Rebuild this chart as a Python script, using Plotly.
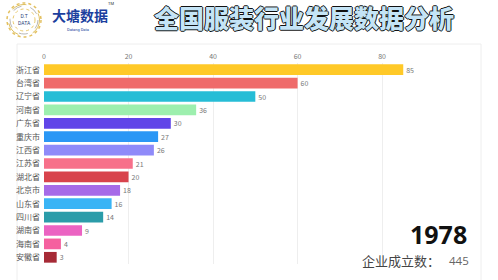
import plotly.graph_objects as go

provinces = ["浙江省", "台湾省", "辽宁省", "河南省", "广东省", "重庆市", "江西省", "江苏省",
             "湖北省", "北京市", "山东省", "四川省", "湖南省", "海南省", "安徽省"]
values = [85, 60, 50, 36, 30, 27, 26, 21, 20, 18, 16, 14, 9, 4, 3]
colors = ["#FFC928", "#EF6B6B", "#26BDD6", "#9DEFAE", "#6045E8", "#2A97F5", "#8F8AF9", "#F7708A",
          "#D8434C", "#A66AE8", "#3AB4F5", "#2B9CA9", "#EB63C2", "#F5609F", "#A62A36"]
x_ticks = [0, 20, 40, 60, 80]
year = "1978"
total = 445

W, H = 498, 280
L, R, T, B = 44, 17, 63, 16
PW, PH = W - L - R, H - T - B


def ax(x):
    return (x - L) / PW


def ay(y):
    return 1 + (T - y) / PH


fig = go.Figure(go.Bar(
    x=values, y=provinces, orientation="h",
    marker=dict(color=colors, line=dict(width=0)),
    text=[str(v) for v in values], textposition="outside",
    textfont=dict(size=7, color="#777", family="Noto Sans CJK SC"),
    cliponaxis=False,
))

shapes = [
    dict(type="rect", xref="paper", yref="paper",
         x0=ax(17), x1=1.0, y0=ay(290), y1=ay(44),
         line=dict(color="#EEEEEE", width=1), layer="below"),
]

annotations = [
    dict(text="全国服装行业发展数据分析", xref="paper", yref="paper",
         x=ax(304), y=ay(17), xanchor="center", yanchor="middle",
         showarrow=False,
         font=dict(family="Noto Sans CJK SC", size=25, color="#C4E4F6", weight=900,
                   shadow="1px 0 0 #111, -1px 0 0 #111, 0 1px 0 #111, 0 -1px 0 #111")),
    dict(text="大塘数据", xref="paper", yref="paper",
         x=ax(50), y=ay(15), xanchor="left", yanchor="middle",
         showarrow=False, font=dict(family="Noto Sans CJK SC", size=14, color="#1C3F9E", weight="bold")),
    dict(text="Datang Data", xref="paper", yref="paper",
         x=ax(78), y=ay(29), xanchor="center", yanchor="middle",
         showarrow=False, font=dict(family="Roboto", size=4, color="#1C3F9E")),
    dict(text="TM", xref="paper", yref="paper",
         x=ax(111), y=ay(3), xanchor="center", yanchor="middle",
         showarrow=False, font=dict(family="Roboto", size=4, color="#333")),
    dict(text="D.T<br>DATA", xref="paper", yref="paper",
         x=ax(24), y=ay(20), xanchor="center", yanchor="middle",
         showarrow=False, font=dict(family="Roboto", size=5, color="#2B3F7A")),
    dict(text="<b>" + year + "</b>", xref="paper", yref="paper",
         x=ax(469), y=ay(234), xanchor="right", yanchor="middle",
         showarrow=False, font=dict(family="Open Sans", size=25, color="#111")),
    dict(text="企业成立数：", xref="paper", yref="paper",
         x=ax(442), y=ay(260), xanchor="right", yanchor="middle",
         showarrow=False, font=dict(family="Noto Sans CJK SC", size=13, color="#444")),
    dict(text=str(total), xref="paper", yref="paper",
         x=ax(447), y=ay(260), xanchor="left", yanchor="middle",
         showarrow=False, font=dict(family="Open Sans", size=11.5, color="#666")),
]

for r, col, dash, wdt in [(17, "#E3C060", "dot", 1.5), (14, "#B8B8B8", "dash", 1), (11, "#E8C86A", "dot", 1),
                          (15.5, "#D4AF37", "longdash", 0.8)]:
    shapes.append(dict(type="circle", xref="paper", yref="paper",
                       x0=ax(24 - r), x1=ax(24 + r),
                       y0=ay(20 + r), y1=ay(20 - r),
                       line=dict(color=col, width=wdt, dash=dash)))

fig.update_layout(
    width=W, height=H,
    margin=dict(l=L, r=R, t=T, b=B),
    paper_bgcolor="white", plot_bgcolor="white",
    bargap=0.2,
    showlegend=False,
    xaxis=dict(range=[0, 103.4], side="top", tickvals=x_ticks, ticks="",
               tickfont=dict(size=7, color="#777", family="Noto Sans CJK SC"),
               showgrid=True, gridcolor="#EEEEEE", gridwidth=1, zeroline=False,
               showline=False, ticklabelstandoff=2),
    yaxis=dict(autorange="reversed", tickfont=dict(size=8, color="#555", family="Noto Sans CJK SC"),
               ticks="", showgrid=False, zeroline=False, ticklabelstandoff=3),
    shapes=shapes,
    annotations=annotations,
)

fig.write_html("out.html")
